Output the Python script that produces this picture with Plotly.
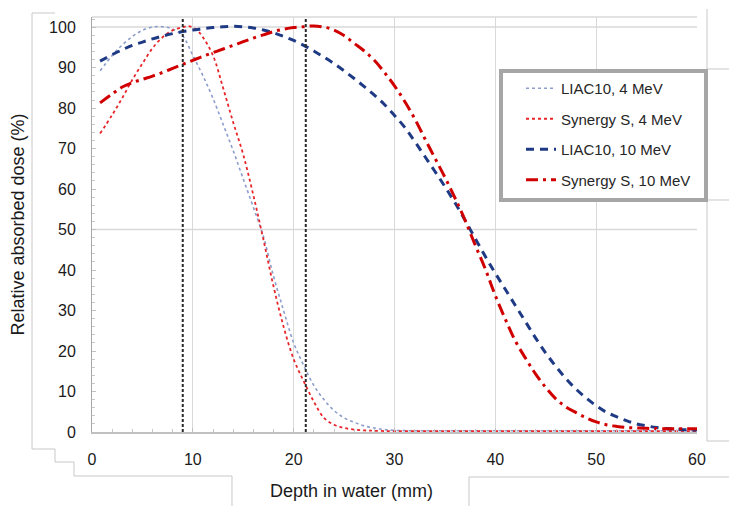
import plotly.graph_objects as go

# ---------------- data ----------------
depth_liac4 = [0.8, 2, 3, 4, 5, 6, 7, 8, 9, 10, 11, 12, 13, 14, 15, 16, 17, 18, 19, 20,
               21, 22, 23, 24, 25, 26, 27, 28, 29, 30, 35, 40, 45, 50, 55, 60]
dose_liac4 = [89.2, 93.0, 95.6, 97.7, 99.2, 100.0, 100.1, 99.5, 97.8, 93.0, 88.0, 82.4, 76.0, 69.5,
              62.5, 55.5, 48.3, 38.5, 30.0, 22.0, 16.4, 11.5, 8.0, 5.3, 3.5, 2.4, 1.5, 1.0, 0.6, 0.4,
              0.3, 0.3, 0.3, 0.3, 0.3, 0.3]

depth_syn4 = [0.8, 2, 3, 4, 5, 6, 7, 8, 9, 9.7, 10.5, 11, 12, 13, 14, 15, 16, 17, 18, 19, 20,
              21, 22, 23, 24, 25, 26, 27, 28, 30, 35, 40, 45, 50, 55, 60]
dose_syn4 = [73.7, 78.3, 82.5, 87.0, 91.0, 94.8, 97.5, 99.2, 100.0, 100.2, 99.0, 97.5, 93.0, 85.0,
             76.5, 68.5, 58.5, 47.5, 36.0, 26.0, 18.0, 12.5, 7.5, 3.5, 1.8, 1.0, 0.6, 0.4, 0.3,
             0.2, 0.2, 0.2, 0.2, 0.2, 0.2, 0.2]

depth_10 = [0.8] + list(range(2, 61))
dose_liac10 = [91.6, 93.2, 94.4, 95.5, 96.3, 97.1, 97.8, 98.4, 98.9, 99.3, 99.6, 99.9, 100.1, 100.2,
               100.1, 99.8, 99.3, 98.6, 97.7, 96.7, 95.5, 94.1, 92.6, 91.0, 89.2, 87.3, 85.3, 83.2,
               80.9, 78.2, 75.3, 71.8, 68.1, 64.4, 60.6, 56.6, 52.3, 47.8, 43.4, 39.2, 35.2, 31.2,
               27.2, 23.2, 19.5, 16.2, 13.2, 10.6, 8.4, 6.5, 4.9, 3.8, 2.8, 2.0, 1.5, 1.1, 0.85,
               0.7, 0.55, 0.5]
dose_syn10 = [81.3, 83.5, 85.2, 86.3, 87.1, 87.9, 88.8, 89.8, 90.8, 91.8, 92.8, 93.7, 94.6, 95.5,
              96.4, 97.3, 98.1, 98.9, 99.5, 99.9, 100.1, 100.3, 100.0, 99.3, 97.9, 96.0, 94.1, 91.8,
              88.8, 85.5, 81.7, 77.4, 72.5, 67.7, 62.9, 57.8, 52.3, 46.2, 40.3, 33.7, 27.8, 22.4,
              18.2, 14.3, 11.0, 8.2, 6.2, 4.8, 3.5, 2.5, 1.8, 1.4, 1.1, 1.0, 0.9, 0.85, 0.8, 0.8,
              0.8, 0.8]

marker_depths = [9.0, 21.2]

series_names = ["LIAC10, 4 MeV", "Synergy S, 4 MeV", "LIAC10, 10 MeV", "Synergy S, 10 MeV"]

x_ticks = [0, 10, 20, 30, 40, 50, 60]
y_ticks = [0, 10, 20, 30, 40, 50, 60, 70, 80, 90, 100]
y_grid = [50, 100]

X_MAX = 60
Y_MAX = 102.5

FONT = "Liberation Sans, Arial, sans-serif"

# ---------------- figure ----------------
fig = go.Figure()

fig.add_trace(go.Scatter(x=depth_liac4, y=dose_liac4, name=series_names[0], mode="lines",
                         line=dict(color="#8c9dcc", width=1.6, dash="dot", shape="spline"),
                         legendgroup="a"))
fig.add_trace(go.Scatter(x=depth_syn4, y=dose_syn4, name=series_names[1], mode="lines",
                         line=dict(color="#e8262a", width=1.8, dash="dot", shape="spline"),
                         legendgroup="b"))
fig.add_trace(go.Scatter(x=depth_10, y=dose_liac10, name=series_names[2], mode="lines",
                         line=dict(color="#1f3a84", width=3, dash="8px,6px", shape="spline"),
                         legendgroup="c"))
fig.add_trace(go.Scatter(x=depth_10, y=dose_syn10, name=series_names[3], mode="lines",
                         line=dict(color="#d00000", width=3, dash="12px,5px,3px,5px", shape="spline"),
                         legendgroup="d"))

for d in marker_depths:
    fig.add_trace(go.Scatter(x=[d, d], y=[0, Y_MAX], mode="lines", showlegend=False,
                             line=dict(color="#2a2a2a", width=2, dash="3px,2px"),
                             hoverinfo="skip"))

# layout geometry (pixels)
W, H = 729, 506
L, R, T, B = 92, 32, 17, 74
PW, PH = W - L - R, H - T - B


def px2paper(px, py):
    return (px - L) / PW, (H - B - py) / PH


shapes = []
# horizontal gridlines at 50 and 100, and the top frame line
for gv in y_grid:
    shapes.append(dict(type="line", xref="paper", yref="y", x0=0, x1=1, y0=gv, y1=gv,
                       line=dict(color="#d9d9d9", width=1.5), layer="below"))
shapes.append(dict(type="line", xref="paper", yref="paper", x0=0, x1=1, y0=1, y1=1,
                   line=dict(color="#d9d9d9", width=1.5), layer="below"))


def polyline(points, color="#c8c8c8", width=1):
    pts = [px2paper(*p) for p in points]
    path = "M " + " L ".join(f"{x:.5f},{y:.5f}" for x, y in pts)
    return dict(type="path", xref="paper", yref="paper", path=path,
                line=dict(color=color, width=width))


# page-frame lines around the chart
shapes.append(polyline([(55, 13), (32, 13), (32, 449), (55, 449), (55, 462), (74, 462),
                        (74, 476), (232, 476), (232, 507)]))
shapes.append(polyline([(707, 9), (707, 441), (730, 441)]))
shapes.append(polyline([(707, 69), (730, 69)]))
shapes.append(polyline([(707, 200), (730, 200)]))
shapes.append(polyline([(730, 477), (469, 477), (469, 507)]))

# legend frame (thick grey box)
bx0, by0 = px2paper(501, 71)
bx1, by1 = px2paper(706, 200)
shapes.append(dict(type="rect", xref="paper", yref="paper", x0=bx0, x1=bx1, y0=by0, y1=by1,
                   line=dict(color="#a6a6a6", width=4), fillcolor="white", layer="above"))

tx, ty = px2paper(351, 491)
lx, ly = px2paper(503, 72)

fig.update_layout(
    width=W, height=H,
    margin=dict(l=L, r=R, t=T, b=B, autoexpand=False),
    paper_bgcolor="white", plot_bgcolor="white",
    font=dict(family=FONT, size=16, color="#1a1a1a"),
    shapes=shapes,
    showlegend=True,
    legend=dict(x=lx, y=ly, xanchor="left", yanchor="top",
                bgcolor="rgba(0,0,0,0)", borderwidth=0,
                font=dict(family=FONT, size=15, color="#262626"),
                tracegroupgap=8, traceorder="grouped", indentation=18),
    annotations=[dict(text="Depth in water (mm)", x=tx, y=ty, xref="paper", yref="paper",
                      xanchor="center", yanchor="middle", showarrow=False,
                      font=dict(family=FONT, size=18, color="#1a1a1a"))],
)

fig.update_xaxes(
    range=[0, X_MAX], tickvals=x_ticks, showgrid=True, gridcolor="#d9d9d9", gridwidth=1,
    showline=True, linecolor="#c0c0c0", linewidth=2, zeroline=False,
    ticks="inside", ticklen=4, tickcolor="#c0c0c0", ticklabelstandoff=12,
    minor=dict(dtick=2, ticks="inside", ticklen=3, tickcolor="#c8c8c8", showgrid=False),
    tickfont=dict(size=16, color="#1a1a1a"),
)
fig.update_yaxes(
    range=[0, Y_MAX], tickvals=y_ticks, showgrid=False, zeroline=False,
    showline=True, linecolor="#a8a8a8", linewidth=1,
    ticks="inside", ticklen=4, tickcolor="#c0c0c0", ticklabelstandoff=12,
    minor=dict(dtick=2, ticks="inside", ticklen=3, tickcolor="#c8c8c8", showgrid=False),
    tickfont=dict(size=16, color="#1a1a1a"),
    title=dict(text="Relative absorbed dose (%)", font=dict(size=18, color="#1a1a1a"), standoff=19),
)

fig.write_html("out.html", config={"displayModeBar": False},
               post_script="document.body.style.margin='0px';document.body.style.overflow='hidden';")
